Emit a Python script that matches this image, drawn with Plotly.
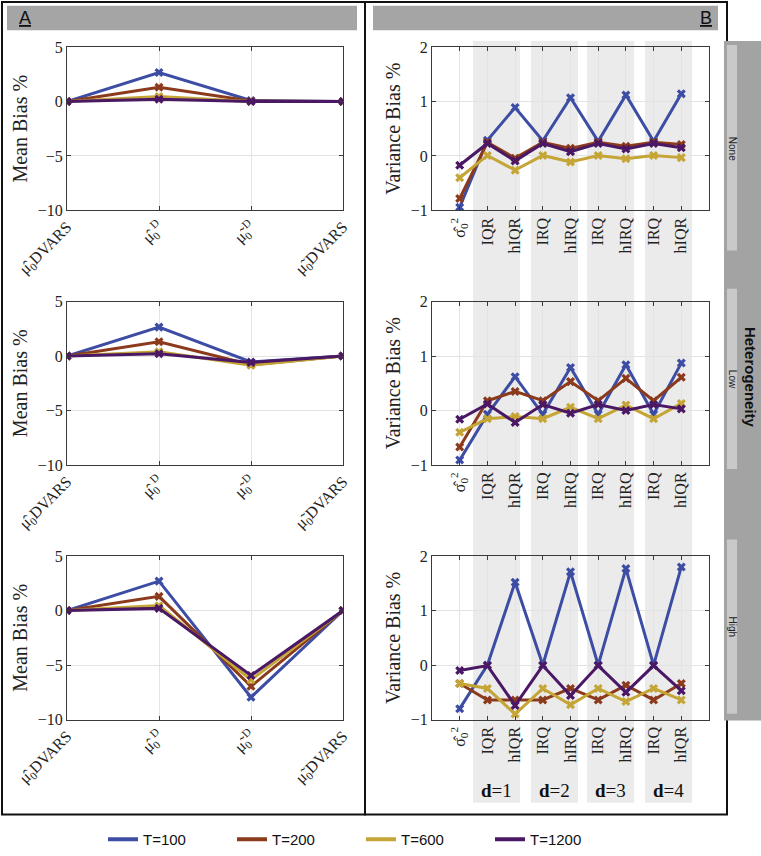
import plotly.graph_objects as go

W, H = 761, 856

# series
t_names = ["T=100", "T=200", "T=600", "T=1200"]
t_colors = ["#3c4da3", "#8b3a1c", "#c4a535", "#4a1864"]

# tick labels
mean_labels = ["μ\u0302<sub>0</sub>DVARS", "μ\u0302<sub>0</sub><sup>D</sup>",
               "μ\u0303<sub>0</sub><sup>D</sup>", "μ\u0303<sub>0</sub>DVARS"]
var_labels = ["σ\u0302<sub>0</sub><sup>2</sup>", "IQR", "hIQR", "IRQ", "hIRQ",
              "IRQ", "hIRQ", "IRQ", "hIQR"]
d_labels = ["<b>d</b>=1", "<b>d</b>=2", "<b>d</b>=3", "<b>d</b>=4"]
levels = ["None", "Low", "High"]

# mean bias (%), one list per T
mean_none = [[0, 2.65, 0.1, 0], [0, 1.3, 0.05, 0], [0, 0.45, 0.0, 0], [0, 0.2, 0.0, 0]]
mean_low = [[0, 2.65, -0.55, 0], [0, 1.3, -0.8, 0], [0, 0.4, -0.85, 0], [0, 0.2, -0.6, 0]]
mean_high = [[0, 2.7, -7.95, 0], [0, 1.3, -6.95, 0], [0, 0.45, -6.35, 0], [0, 0.2, -5.95, 0]]

# variance bias (%), one list per T
var_none = [
    [-0.94, 0.29, 0.89, 0.28, 1.07, 0.27, 1.12, 0.27, 1.14],
    [-0.78, 0.25, -0.04, 0.25, 0.14, 0.25, 0.18, 0.25, 0.21],
    [-0.40, 0.01, -0.26, 0.01, -0.11, 0.01, -0.05, 0.01, -0.03],
    [-0.17, 0.23, -0.09, 0.23, 0.08, 0.23, 0.13, 0.23, 0.15],
]
var_low = [
    [-0.91, -0.07, 0.62, -0.07, 0.79, -0.07, 0.84, -0.07, 0.87],
    [-0.67, 0.18, 0.35, 0.18, 0.53, 0.18, 0.59, 0.18, 0.61],
    [-0.40, -0.15, -0.11, -0.15, 0.06, -0.15, 0.10, -0.15, 0.13],
    [-0.16, 0.12, -0.22, 0.11, -0.05, 0.11, 0.0, 0.11, 0.03],
]
var_high = [
    [-0.80, 0.0, 1.52, 0.0, 1.71, 0.0, 1.77, 0.0, 1.80],
    [-0.34, -0.64, -0.64, -0.64, -0.43, -0.64, -0.37, -0.64, -0.34],
    [-0.34, -0.43, -0.90, -0.43, -0.73, -0.43, -0.67, -0.43, -0.64],
    [-0.10, -0.01, -0.74, -0.01, -0.56, -0.01, -0.50, -0.01, -0.47],
]


def px(x):
    return x / W


def py(y):
    return 1 - y / H


SERIF = "Liberation Serif"
SANS = "Liberation Sans"

xa_dom = [px(67), px(343)]
xb_dom = [px(432), px(709)]
row_px = [(48, 215), (308, 475), (568, 735)]

fig = go.Figure()

mean_rows = [mean_none, mean_low, mean_high]
var_rows = [var_none, var_low, var_high]

axis_common = dict(
    showline=True, mirror="ticks", linecolor="#3a3a3a", linewidth=1,
    ticks="inside", ticklen=4, tickcolor="#3a3a3a", automargin=False,
    showgrid=True, gridcolor="#e3e3e3", gridwidth=1, zeroline=False,
    tickfont=dict(family=SERIF, size=16, color="#222"),
)

layout_axes = {}
for r in range(3):
    y0, y1 = row_px[r]
    ia = 2 * r + 1
    ib = 2 * r + 2
    for i, ys in enumerate(mean_rows[r]):
        fig.add_trace(go.Scatter(
            x=[1, 2, 3, 4], y=ys, mode="lines+markers", name=t_names[i],
            line=dict(color=t_colors[i], width=3),
            marker=dict(symbol="x", size=8, color=t_colors[i]),
            xaxis=f"x{ia}", yaxis=f"y{ia}", showlegend=False, legendgroup=t_names[i],
        ))
    for i, ys in enumerate(var_rows[r]):
        fig.add_trace(go.Scatter(
            x=list(range(1, 10)), y=ys, mode="lines+markers", name=t_names[i],
            line=dict(color=t_colors[i], width=3),
            marker=dict(symbol="x", size=8, color=t_colors[i]),
            xaxis=f"x{ib}", yaxis=f"y{ib}", showlegend=False, legendgroup=t_names[i],
        ))
    ydom = [py(y1), py(y0)]
    layout_axes[f"xaxis{ia}"] = dict(axis_common, domain=xa_dom, anchor=f"y{ia}", range=[1, 4],
                                     tickvals=[1, 2, 3, 4], ticktext=mean_labels, tickangle=-45)
    layout_axes[f"yaxis{ia}"] = dict(axis_common, domain=ydom, anchor=f"x{ia}", range=[-10, 5],
                                     tickvals=[-10, -5, 0, 5],
                                     title=dict(text="Mean Bias %", font=dict(family=SERIF, size=20, color="#222"),
                                                standoff=4))
    layout_axes[f"xaxis{ib}"] = dict(axis_common, domain=xb_dom, anchor=f"y{ib}", range=[0, 10],
                                     tickvals=list(range(1, 10)), ticktext=var_labels, tickangle=-90)
    layout_axes[f"yaxis{ib}"] = dict(axis_common, domain=ydom, anchor=f"x{ib}", range=[-1, 2],
                                     tickvals=[-1, 0, 1, 2],
                                     title=dict(text="Variance Bias %", font=dict(family=SERIF, size=20, color="#222"),
                                                standoff=4))

# legend entries drawn as plain lines
for i, name in enumerate(t_names):
    fig.add_trace(go.Scatter(x=[None], y=[None], mode="lines", name=name,
                             line=dict(color=t_colors[i], width=4), xaxis="x1", yaxis="y1",
                             legendgroup=name, showlegend=True))

shapes = []
annotations = []

# outer frames
shapes.append(dict(type="rect", xref="paper", yref="paper", x0=px(2), x1=px(365), y0=py(832), y1=py(2),
                   line=dict(color="#111", width=2), layer="below"))
shapes.append(dict(type="rect", xref="paper", yref="paper", x0=px(365), x1=px(727), y0=py(832), y1=py(2),
                   line=dict(color="#111", width=2), layer="below"))

# header bars
for x0, x1, lab, xa, anc in [(7, 357, "<u>A</u>", 17, "left"), (373, 718, "<u>B</u>", 714, "right")]:
    shapes.append(dict(type="rect", xref="paper", yref="paper", x0=px(x0), x1=px(x1), y0=py(31), y1=py(6),
                       fillcolor="#a5a5a5", line=dict(width=0), layer="below"))
    annotations.append(dict(text=lab, xref="paper", yref="paper", x=px(xa), y=py(18), xanchor=anc,
                            yanchor="middle", showarrow=False, font=dict(family=SANS, size=18, color="#111")))

# grey bands in panel B (left edge in x units, width 1.7)
band_left = [1.48, 3.57, 5.60, 7.69]
for k, bl in enumerate(band_left):
    xx0 = xb_dom[0] + bl / 10 * (xb_dom[1] - xb_dom[0])
    xx1 = xb_dom[0] + (bl + 1.7) / 10 * (xb_dom[1] - xb_dom[0])
    shapes.append(dict(type="rect", xref="paper", yref="paper", x0=xx0, x1=xx1, y0=py(820), y1=py(42),
                       fillcolor="#ebebeb", line=dict(width=0), layer="below"))
    annotations.append(dict(text=d_labels[k], xref="paper", yref="paper", x=(xx0 + xx1) / 2, y=py(807),
                            xanchor="center", yanchor="middle", showarrow=False,
                            font=dict(family=SERIF, size=19, color="#111")))

# heterogeneity strip
shapes.append(dict(type="rect", xref="paper", yref="paper", x0=px(724), x1=px(761), y0=py(736), y1=py(42),
                   fillcolor="#a3a3a3", line=dict(width=0), layer="below"))
for (b0, b1), lab, yc in zip([(46, 256), (295, 479), (551, 729)], levels, [152, 387, 640]):
    shapes.append(dict(type="rect", xref="paper", yref="paper", x0=px(727), x1=px(737), y0=py(b1), y1=py(b0),
                       fillcolor="#c9c9c9", line=dict(width=0), layer="below"))
    annotations.append(dict(text=lab, xref="paper", yref="paper", x=px(732), y=py(yc), textangle=90,
                            xanchor="center", yanchor="middle", showarrow=False,
                            font=dict(family=SANS, size=10, color="#222")))
annotations.append(dict(text="<b>Heterogeneity</b>", xref="paper", yref="paper", x=px(750), y=py(385),
                        textangle=90, xanchor="center", yanchor="middle", showarrow=False,
                        font=dict(family=SANS, size=15, color="#111")))

fig.update_layout(
    width=W, height=H, margin=dict(l=0, r=0, t=0, b=0),
    paper_bgcolor="white", plot_bgcolor="rgba(0,0,0,0)",
    shapes=shapes, annotations=annotations,
    legend=dict(orientation="h", x=px(361), xanchor="center", y=py(841), yanchor="top",
                font=dict(family=SANS, size=15, color="#111"), entrywidth=84, bgcolor="rgba(0,0,0,0)",
                tracegroupgap=0),
    **layout_axes,
)

fig.write_html("out.html", config={"displayModeBar": False},
               post_script="document.body.style.margin='0px';")
